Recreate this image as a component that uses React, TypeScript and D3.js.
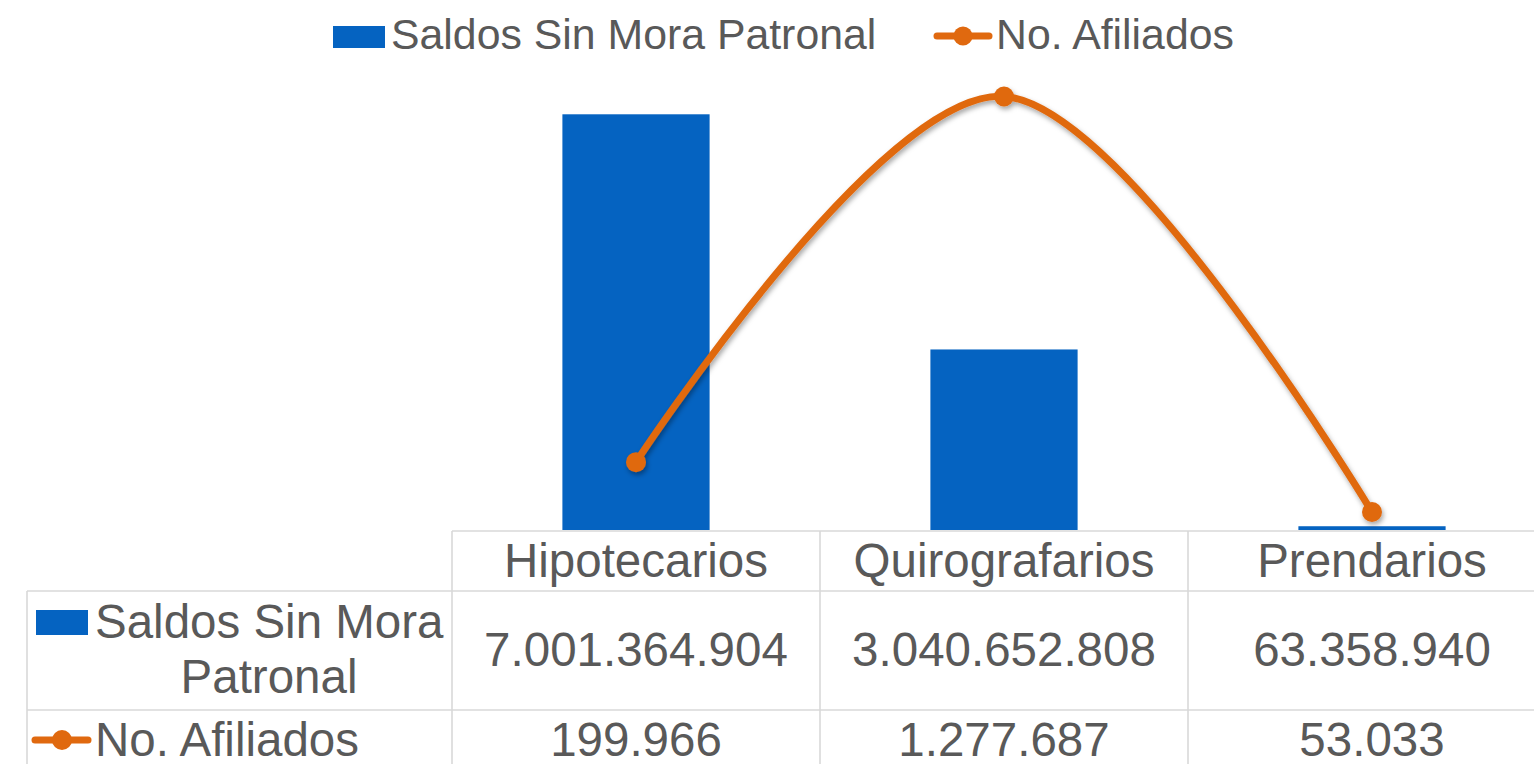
import React from "react";
import * as d3 from "d3";

const categories = ["Hipotecarios", "Quirografarios", "Prendarios"];
const saldos = [7001364904, 3040652808, 63358940];
const afiliados = [199966, 1277687, 53033];
const seriesNames = ["Saldos Sin Mora Patronal", "No. Afiliados"];

const W = 1534;
const H = 764;
const BLUE = "#0563C1";
const ORANGE = "#E0690F";
const TEXT = "#595959";
const GRID = "#D9D9D9";
const FONT = "'Liberation Sans', Arial, sans-serif";

const fmt = (v: number) => d3.format(",")(v).replace(/,/g, ".");

export default function App() {
  const plotLeft = 452;
  const plotRight = 452 + 368 * 3;
  const plotTop = 55;
  const plotBottom = 530;

  const x = d3.scaleBand<string>().domain(categories).range([plotLeft, plotRight]).paddingInner(0.6).paddingOuter(0.3);
  const xc = (c: string) => (x(c) as number) + x.bandwidth() / 2;
  const colW = (plotRight - plotLeft) / categories.length;
  const yBar = d3.scaleLinear().domain([0, 8e9]).range([plotBottom, plotTop]);
  const yLine = d3.scaleLinear().domain([0, 1.4e6]).range([plotBottom, plotTop]);

  const pts: [number, number][] = categories.map((c, i) => [xc(c), yLine(afiliados[i])]);
  const linePath = d3.line().curve(d3.curveCardinal.tension(0))(pts) as string;

  const tableTop = 531;
  const row1 = 591;
  const row2 = 710;
  const tableLeft = 27;

  return (
    <svg width={W} height={H} style={{ position: "absolute", left: 0, top: 0, background: "#fff" }} fontFamily={FONT}>
      <defs>
        <filter id="sh" x="-20%" y="-20%" width="140%" height="140%">
          <feDropShadow dx="1.5" dy="3" stdDeviation="2.5" floodColor="#000" floodOpacity="0.35" />
        </filter>
      </defs>

      {/* Legend */}
      <rect x={333} y={26} width={52} height={22} fill={BLUE} />
      <text x={391} y={48.5} fontSize={42.8} fill={TEXT}>{seriesNames[0]}</text>
      <line x1={937} x2={989} y1={36} y2={36} stroke={ORANGE} strokeWidth={7} strokeLinecap="round" />
      <circle cx={963} cy={36} r={9.5} fill={ORANGE} />
      <text x={996} y={48.5} fontSize={42.8} fill={TEXT}>{seriesNames[1]}</text>

      {/* Bars */}
      {categories.map((c, i) => (
        <rect key={c} x={x(c)} y={yBar(saldos[i])} width={x.bandwidth()} height={plotBottom - yBar(saldos[i])} fill={BLUE} />
      ))}

      {/* Line */}
      <g filter="url(#sh)">
        <path d={linePath} fill="none" stroke={ORANGE} strokeWidth={7} strokeLinecap="round" />
        {pts.map((p, i) => (
          <circle key={i} cx={p[0]} cy={p[1]} r={10} fill={ORANGE} />
        ))}
      </g>

      {/* Data table grid */}
      <g stroke={GRID} strokeWidth={1.6}>
        <line x1={plotLeft} x2={W} y1={tableTop} y2={tableTop} />
        <line x1={tableLeft} x2={W} y1={row1} y2={row1} />
        <line x1={tableLeft} x2={W} y1={row2} y2={row2} />
        <line x1={tableLeft} x2={tableLeft} y1={row1} y2={H} />
        {categories.map((c, i) => (
          <line key={c} x1={plotLeft + colW * i} x2={plotLeft + colW * i} y1={tableTop} y2={H} />
        ))}
      </g>

      {/* Table text */}
      <g fontSize={47.5} fill={TEXT} textAnchor="middle">
        {categories.map((c, i) => (
          <g key={c}>
            <text x={xc(c)} y={577}>{c}</text>
            <text x={xc(c)} y={666}>{fmt(saldos[i])}</text>
            <text x={xc(c)} y={756}>{fmt(afiliados[i])}</text>
          </g>
        ))}
      </g>

      {/* Row headers */}
      <rect x={36} y={610} width={52} height={25} fill={BLUE} />
      <text x={95} y={638} fontSize={47.5} fill={TEXT}>Saldos Sin Mora</text>
      <text x={269} y={693} fontSize={47.5} fill={TEXT} textAnchor="middle">Patronal</text>
      <line x1={35} x2={88} y1={740} y2={740} stroke={ORANGE} strokeWidth={7} strokeLinecap="round" />
      <circle cx={62} cy={740} r={10} fill={ORANGE} />
      <text x={95} y={756} fontSize={47.5} fill={TEXT}>{seriesNames[1]}</text>
    </svg>
  );
}
